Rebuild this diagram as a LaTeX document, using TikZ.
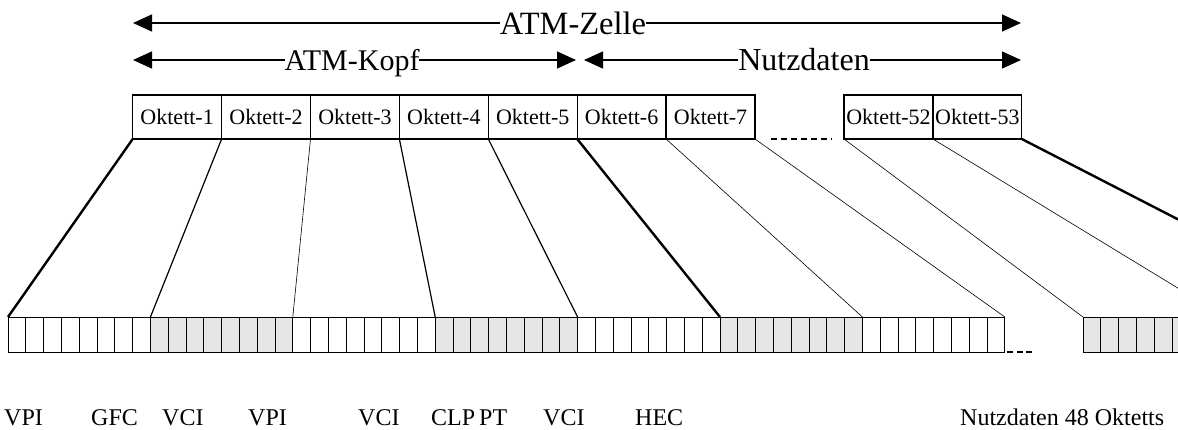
\documentclass[tikz,border=0pt]{standalone}
\usepackage{fontspec}
\setmainfont{Liberation Serif}
\usetikzlibrary{arrows.meta}
\definecolor{bitgray}{HTML}{E6E6E6}
\begin{document}
\begin{tikzpicture}[x=1pt,y=-1pt,
  octbox/.style={draw, line width=1.3pt, minimum width=88.9pt, minimum height=44pt,
    inner sep=0pt, outer sep=0pt, font=\fontsize{22}{24}\selectfont},
  bitoct/.style={draw, line width=0.9pt, minimum width=142.4pt, minimum height=35pt,
    inner sep=0pt, outer sep=0pt},
  bitsep/.style={line width=0.9pt},
  span/.style={-{Triangle[length=19pt,width=17pt]}, line width=1.3pt},
  spanlabel/.style={inner sep=0pt, outer sep=0pt, font=\fontsize{31}{34}\selectfont},
  field/.style={anchor=base west, inner sep=0pt, font=\fontsize{24}{26}\selectfont},
  gap/.style={line width=1.6pt, dash pattern=on 6pt off 4pt},
  thickline/.style={line width=2.4pt},
  midline/.style={line width=1.2pt},
  thinline/.style={line width=0.6pt},
]
\useasboundingbox (0,0) rectangle (1178,429);
\clip (0,0) rectangle (1178,429);

% span arrows
\coordinate (zl) at (133,23);
\coordinate (zr) at (1021,23);
\coordinate (kl) at (133,60);
\coordinate (kr) at (576,60);
\coordinate (nl) at (584,60);
\coordinate (nr) at (1021,60);
\node[spanlabel, font=\fontsize{32.5}{34}\selectfont] (zt) at (573,23) {ATM-Zelle};
\draw[span] (zt.west) -- (zl);
\draw[span] (zt.east) -- (zr);
\node[spanlabel, font=\fontsize{30}{34}\selectfont, anchor=base] (kt) at (352,70.5) {ATM-Kopf};
\draw[span] (kt.west |- kl) -- (kl);
\draw[span] (kt.east |- kr) -- (kr);
\node[spanlabel, font=\fontsize{32}{34}\selectfont, anchor=base] (nt) at (804,70.5) {Nutzdaten};
\draw[span] (nt.west |- nl) -- (nl);
\draw[span] (nt.east |- nr) -- (nr);

% octets of the cell
\foreach \n/\x in {1/132.7, 2/221.6, 3/310.5, 4/399.4, 5/488.3, 6/577.2, 7/666.1, 52/844, 53/932.9}
  \node[octbox, anchor=north west] (o\n) at (\x,95) {Oktett-\n};
\coordinate (ga) at (771,139);
\coordinate (gb) at (832,139);
\draw[gap] (ga) -- (gb);

% bit rows
\foreach \n/\x/\c in {1/8/white, 2/150.4/bitgray, 3/292.8/white, 4/435.2/bitgray,
    5/577.6/white, 6/720/bitgray, 7/862.4/white, 52/1083/bitgray, 53/1225.4/white}
{
  \node[bitoct, fill=\c, anchor=north west] (b\n) at (\x,317) {};
  \foreach \k in {1,...,7}
    \draw[bitsep] ([xshift=\k*17.8pt]b\n.north west) -- ([xshift=\k*17.8pt]b\n.south west);
}
\coordinate (ba) at (1007,352);
\coordinate (bb) at (1034,352);
\draw[line width=1.3pt, dash pattern=on 6pt off 3.5pt] (ba) -- (bb);

% fan-out from octets to bits
\draw[thickline] (o1.south west) -- (b1.north west);
\draw[midline] (o2.south west) -- (b2.north west);
\draw[thinline] (o3.south west) -- (b3.north west);
\draw[midline] (o4.south west) -- (b4.north west);
\draw[midline] (o5.south west) -- (b5.north west);
\draw[thickline] (o6.south west) -- (b6.north west);
\draw[thinline] (o7.south west) -- (b7.north west);
\draw[thinline] (o7.south east) -- (b7.north east);
\draw[thinline] (o52.south west) -- (b52.north west);
\draw[thinline] (o53.south west) -- (b53.north west);
\draw[thickline] (o53.south east) -- (b53.north east);

% field names
\node[field] (f1) at (4,425) {VPI};
\node[field] (f2) at (91,425) {GFC};
\node[field] (f3) at (162,425) {VCI};
\node[field] (f4) at (248,425) {VPI};
\node[field] (f5) at (358,425) {VCI};
\node[field] (f6) at (431,425) {CLP};
\node[field] (f7) at (479,425) {PT};
\node[field] (f8) at (543,425) {VCI};
\node[field] (f9) at (635,425) {HEC};
\node[field] (f10) at (960,425) {Nutzdaten 48 Oktetts};
\end{tikzpicture}
\end{document}
